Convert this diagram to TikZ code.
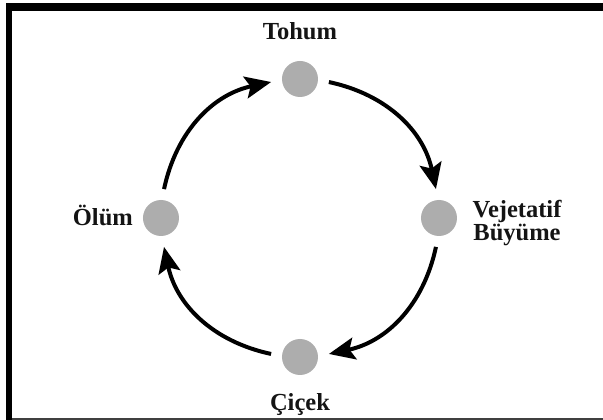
\documentclass[tikz,border=0pt]{standalone}
\usepackage{fontspec}
\setmainfont{Liberation Serif}
\usetikzlibrary{arrows.meta}
\begin{document}
\begin{tikzpicture}[x=1pt,y=1pt,
  stage/.style={circle,fill=black!32,minimum size=36pt,inner sep=0pt},
  lbl/.style={font=\bfseries\fontsize{24.5}{23.5}\selectfont,text=black!92,inner sep=0pt},
  cyc/.style={line width=4pt,-{Stealth[length=26pt,width=22pt,inset=5pt]}}]
  % page area and frame
  \useasboundingbox (-300,-202) rectangle (303,218);
  \fill[white] (-300,-202) rectangle (303,218);
  \fill[black] (-294,-202) rectangle (-288,215);
  \fill[black] (-294,215) rectangle (303,207);
  \fill[black!75] (-288,-201.5) rectangle (303,-199.8);

  % stages of the cycle
  \def\R{139}
  \node[stage] (tohum) at (90:\R) {};
  \node[stage] (vej)   at (0:\R) {};
  \node[stage] (cicek) at (270:\R) {};
  \node[stage] (olum)  at (180:\R) {};

  % arc end points on the cycle
  \foreach \n/\a in {t/90,v/0,c/-90,o/180}{
    \coordinate (\n-out) at ({\a-12}:\R);
    \coordinate (\n-in)  at ({\a+12}:\R);
  }

  % connectors
  \draw[cyc] (t-out) to[bend left=33] (v-in);
  \draw[cyc] (v-out) to[bend left=33] (c-in);
  \draw[cyc] (c-out) to[bend left=33] (o-in);
  \draw[cyc] (o-out) to[bend left=33] (t-in);

  % labels
  \node[lbl,anchor=base] (tohumL) at (0,178) {Tohum};
  \node[lbl,anchor=base] (cicekL) at (0,-193) {Çiçek};
  \node[lbl,anchor=base east] (olumL) at (-167,-8) {Ölüm};
  \node[lbl,anchor=base,align=center] (vejL) at (217,-23) {Vejetatif\\Büyüme};
\end{tikzpicture}
\end{document}
